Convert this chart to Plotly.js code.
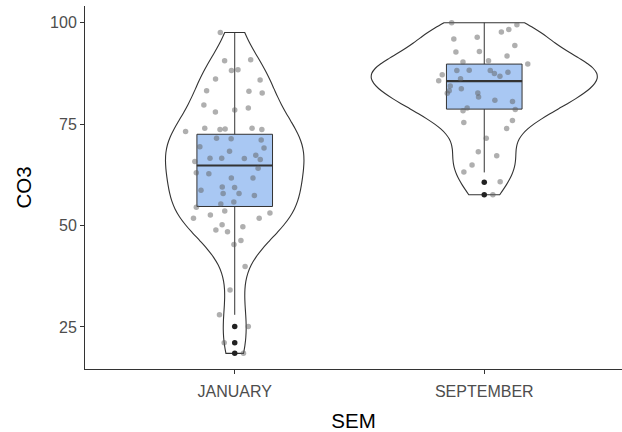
<!DOCTYPE html>
<html><head><meta charset="utf-8">
<script src="https://cdn.plot.ly/plotly-3.0.1.min.js"></script>
<style>html,body{margin:0;padding:0;background:#fff}</style>
</head><body>
<div id="chart" style="width:622px;height:432px"></div>
<script>
const categories = ["JANUARY", "SEPTEMBER"];
const janCO3 = [97.6, 90.9, 90.6, 88.4, 88.2, 86.1, 85.9, 83.2, 83.1, 82.7, 79.7, 79.0, 78.5, 78.0,
  74.0, 74.0, 73.8, 73.7, 73.7, 73.2, 71.5, 71.4, 71.1, 69.4, 69.1, 68.3, 67.3, 66.6, 66.6, 66.5,
  66.3, 65.8, 64.1, 63.0, 62.8, 61.7, 61.7, 59.5, 59.4, 58.7, 57.9, 57.9, 57.4, 55.8, 55.3, 54.5,
  53.6, 53.1, 52.6, 51.8, 51.8, 50.2, 49.7, 48.9, 48.5, 46.3, 45.3, 39.9, 34.1, 28.0, 25.1, 21.1, 18.5];
const sepCO3 = [100.0, 99.5, 98.3, 97.7, 96.4, 96.0, 94.4, 92.9, 92.8, 91.8, 90.6, 90.3, 89.8,
  88.3, 88.2, 88.2, 87.8, 87.5, 87.2, 86.8, 86.2, 85.7, 84.4, 83.7, 83.2, 82.7, 82.6, 81.7, 80.9,
  80.6, 79.0, 78.6, 78.3, 75.9, 75.4, 73.9, 71.5, 68.2, 67.2, 64.9, 63.2, 60.8, 57.6];
const boxQ1 = [54.7, 78.7];
const boxMedian = [64.8, 85.6];
const boxQ3 = [72.5, 89.8];
const boxLower = [28.0, 63.1];
const boxUpper = [97.6, 100.0];
const janOutliers = [25.1, 21.1, 18.5];
const sepOutliers = [60.7, 57.6];
const yTicks = [25, 50, 75, 100];

function quantile(sorted, p) {
  const h = (sorted.length - 1) * p, lo = Math.floor(h), hi = Math.ceil(h);
  return sorted[lo] + (sorted[hi] - sorted[lo]) * (h - lo);
}
function nrd0(v) {
  const n = v.length, m = v.reduce((a, b) => a + b, 0) / n;
  const sd = Math.sqrt(v.reduce((a, b) => a + (b - m) * (b - m), 0) / (n - 1));
  const s = v.slice().sort((a, b) => a - b);
  const iqr = quantile(s, 0.75) - quantile(s, 0.25);
  return 0.9 * Math.min(sd, iqr / 1.34) * Math.pow(n, -0.2);
}

const FONT = "Liberation Sans, Arial, sans-serif";
const lineCol = "#333333";

function violin(vals, cat, w) {
  return {
    type: "violin", x: vals.map(() => cat), y: vals, width: w,
    spanmode: "hard", bandwidth: nrd0(vals), points: false,
    box: {visible: false}, meanline: {visible: false},
    line: {color: lineCol, width: 1.1}, fillcolor: "rgba(0,0,0,0)",
    scalemode: "width", hoverinfo: "skip", showlegend: false
  };
}

const traces = [
  violin(janCO3, categories[0], 0.555),
  violin(sepCO3, categories[1], 0.905),
  {
    type: "box", x: categories, q1: boxQ1, median: boxMedian, q3: boxQ3,
    lowerfence: boxLower, upperfence: boxUpper, width: 0.303, whiskerwidth: 0,
    boxpoints: false, fillcolor: "#a9c8f3", line: {color: lineCol, width: 1},
    hoverinfo: "skip", showlegend: false
  },
  {
    type: "box", x: categories, q1: boxMedian, median: boxMedian, q3: boxMedian,
    lowerfence: boxMedian, upperfence: boxMedian, width: 0.303, whiskerwidth: 0,
    boxpoints: false, fillcolor: "rgba(0,0,0,0)", line: {color: lineCol, width: 2.2},
    hoverinfo: "skip", showlegend: false
  },
  {
    type: "box",
    x: janCO3.map(() => categories[0]).concat(sepCO3.map(() => categories[1])),
    y: janCO3.concat(sepCO3),
    boxpoints: "all", jitter: 1, pointpos: 0, width: 0.4,
    fillcolor: "rgba(0,0,0,0)", line: {color: "rgba(0,0,0,0)", width: 0},
    marker: {color: "rgba(95,95,95,0.5)", size: 5.5},
    hoverinfo: "skip", showlegend: false
  },
  {
    type: "scatter", mode: "markers",
    x: janOutliers.map(() => categories[0]).concat(sepOutliers.map(() => categories[1])),
    y: janOutliers.concat(sepOutliers),
    marker: {color: "#222222", size: 5.5}, hoverinfo: "skip", showlegend: false
  }
];

const layout = {
  width: 622, height: 432,
  margin: {l: 85, r: 0, t: 6, b: 63},
  paper_bgcolor: "#ffffff", plot_bgcolor: "#ffffff",
  font: {family: FONT},
  boxmode: "overlay", violinmode: "overlay",
  showlegend: false,
  xaxis: {
    type: "category", categoryarray: categories, categoryorder: "array",
    range: [-0.6, 1.552],
    showline: true, linecolor: lineCol, linewidth: 1,
    ticks: "outside", ticklen: 4, tickwidth: 1, tickcolor: lineCol,
    ticklabelstandoff: 4,
    showgrid: false, zeroline: false,
    tickfont: {family: FONT, size: 16, color: "#4d4d4d"},
    title: {text: "SEM", font: {family: FONT, size: 20.5, color: "#000000"}, standoff: 16}
  },
  yaxis: {
    range: [14.64, 104.12], tickvals: yTicks, ticktext: yTicks.map(String),
    showline: true, linecolor: lineCol, linewidth: 1,
    ticks: "outside", ticklen: 4, tickwidth: 1, tickcolor: lineCol,
    showgrid: false, zeroline: false,
    tickfont: {family: FONT, size: 16, color: "#4d4d4d"},
    title: {text: "CO3", font: {family: FONT, size: 20.5, color: "#000000"}, standoff: 12}
  }
};

Plotly.newPlot("chart", traces, layout, {staticPlot: true, displayModeBar: false});
</script>
</body></html>
